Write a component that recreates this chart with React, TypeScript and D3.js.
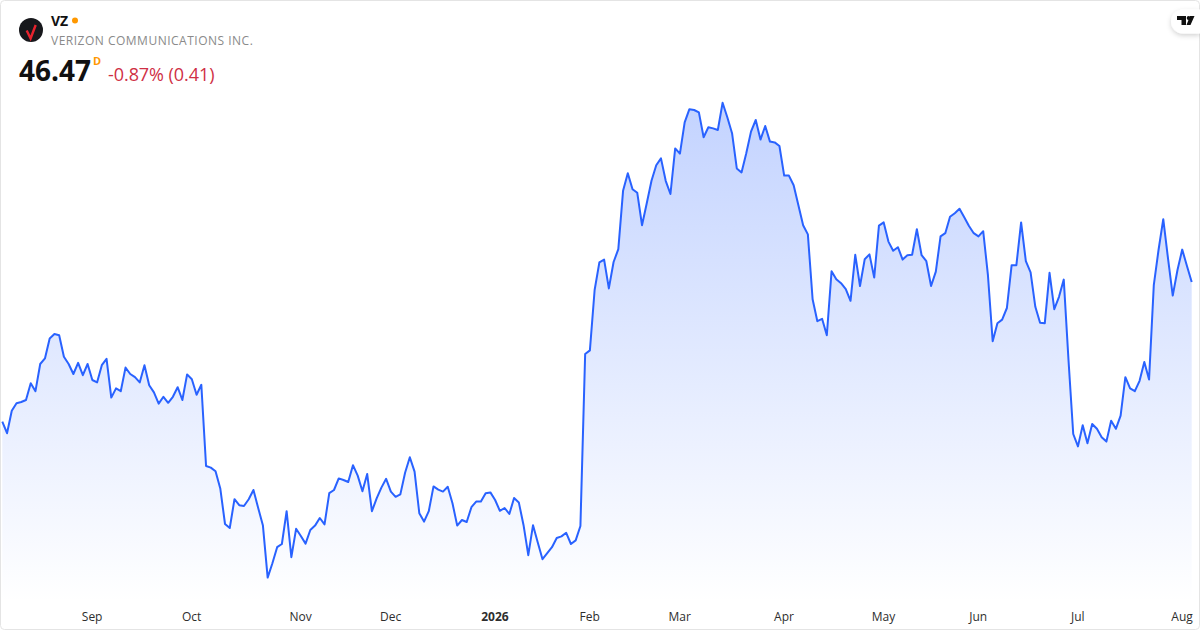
import React, { useEffect, useRef } from 'react';
import * as d3 from 'd3';

const WIDTH = 1200;
const HEIGHT = 630;
const PLOT_BOTTOM = 602;
const FONT = '"Open Sans", sans-serif';

const closes = [
  42.98, 42.69, 43.25, 43.44, 43.47, 43.52, 43.94, 43.74, 44.42, 44.56, 45.06, 45.17,
  45.14, 44.6, 44.42, 44.17, 44.45, 44.14, 44.42, 44.02, 43.96, 44.39, 44.55, 43.58,
  43.81, 43.74, 44.33, 44.17, 44.09, 43.96, 44.39, 43.89, 43.71, 43.43, 43.6, 43.45,
  43.6, 43.84, 43.52, 44.16, 44.04, 43.65, 43.9, 41.87, 41.83, 41.74, 41.31, 40.42,
  40.32, 41.04, 40.89, 40.87, 41.04, 41.27, 40.82, 40.38, 39.08, 39.44, 39.84, 39.92,
  40.74, 39.59, 40.3, 40.12, 39.93, 40.27, 40.38, 40.57, 40.41, 41.19, 41.27, 41.56,
  41.52, 41.47, 41.89, 41.63, 41.24, 41.67, 40.74, 41.06, 41.33, 41.55, 41.23, 41.1,
  41.16, 41.7, 42.09, 41.73, 40.69, 40.48, 40.74, 41.36, 41.28, 41.23, 41.35, 40.94,
  40.38, 40.52, 40.47, 40.84, 40.98, 40.98, 41.19, 41.21, 41.02, 40.75, 40.82, 40.67,
  41.07, 40.96, 40.39, 39.64, 40.39, 39.96, 39.54, 39.69, 39.84, 40.07, 40.11, 40.2,
  39.92, 40.01, 40.37, 44.67, 44.76, 46.27, 46.96, 47.03, 46.31, 46.97, 47.29, 48.75,
  49.19, 48.79, 48.7, 47.89, 48.44, 49.0, 49.39, 49.56, 49.0, 48.67, 49.81, 49.68,
  50.46, 50.79, 50.77, 50.71, 50.09, 50.34, 50.31, 50.27, 50.95, 50.59, 50.19, 49.31,
  49.21, 49.69, 50.23, 50.52, 50.03, 50.37, 49.98, 49.96, 49.87, 49.13, 49.13, 48.89,
  48.39, 47.89, 47.66, 46.04, 45.49, 45.55, 45.14, 46.74, 46.54, 46.44, 46.29, 46.0,
  47.15, 46.37, 47.04, 47.16, 46.58, 47.88, 47.96, 47.48, 47.25, 47.34, 47.03, 47.14,
  47.15, 47.79, 47.14, 46.99, 46.37, 46.73, 47.61, 47.69, 48.1, 48.19, 48.3, 48.09,
  47.87, 47.69, 47.61, 47.74, 46.64, 44.99, 45.44, 45.53, 45.82, 46.89, 46.89, 47.96,
  46.99, 46.71, 45.85, 45.45, 45.44, 46.7, 45.79, 46.1, 46.53, 44.52, 42.67, 42.36,
  42.89, 42.44, 42.92, 42.8, 42.59, 42.48, 43.0, 42.8, 43.13, 44.09, 43.81, 43.74,
  44.0, 44.47, 44.03, 46.39, 47.27, 48.04, 47.06, 46.13, 46.77, 47.28, 46.87, 46.47,
];

// index into closes of the first session of each labelled month
const tickIndexes = [19, 40, 63, 82, 104, 124, 143, 165, 186, 206, 227, 249];
const tickLabels = ['Sep', 'Oct', 'Nov', 'Dec', '2026', 'Feb', 'Mar', 'Apr', 'May', 'Jun', 'Jul', 'Aug'];

export default function App() {
  const svgRef = useRef<SVGSVGElement>(null);

  useEffect(() => {
    if (!svgRef.current) return;
    const svg = d3.select(svgRef.current);
    svg.select('.chart').remove();
    const g = svg.insert('g', '.header').attr('class', 'chart');

    const x = d3.scaleLinear().domain([0, closes.length - 1]).range([2.3, 1191.7]);
    const y = d3.scaleLinear().domain([53.52, 37.77]).range([0, HEIGHT]);

    const area = d3
      .area<number>()
      .x((_, i) => x(i))
      .y0(PLOT_BOTTOM)
      .y1((d) => y(d));
    g.append('path').attr('d', area(closes) ?? '').attr('fill', 'url(#areaFill)');

    const line = d3
      .line<number>()
      .x((_, i) => x(i))
      .y((d) => y(d));
    g.append('path')
      .attr('d', line(closes) ?? '')
      .attr('fill', 'none')
      .attr('stroke', '#2962ff')
      .attr('stroke-width', 2)
      .attr('stroke-linejoin', 'round');

    // Month labels, no axis line or tick marks
    const axis = d3
      .axisBottom(x)
      .tickValues(tickIndexes)
      .tickSize(0)
      .tickPadding(0)
      .tickFormat((_, i) => tickLabels[i]);
    const axisG = g.append('g').attr('transform', 'translate(-0.7, 612)').call(axis);
    axisG.select('.domain').remove();
    axisG
      .selectAll('text')
      .attr('font-family', FONT)
      .attr('font-size', 12)
      .attr('fill', '#2e2e2e')
      .attr('font-weight', (_, i) => (tickLabels[i] === '2026' ? 700 : 400));
  }, []);

  return (
    <svg
      ref={svgRef}
      width={WIDTH}
      height={HEIGHT}
      style={{ position: 'absolute', left: 0, top: 0, background: '#fff' }}
    >
      <defs>
        <linearGradient id="areaFill" gradientUnits="userSpaceOnUse" x1={0} x2={0} y1={103} y2={PLOT_BOTTOM}>
          <stop offset="0%" stopColor="#2962ff" stopOpacity={0.28} />
          <stop offset="100%" stopColor="#2962ff" stopOpacity={0} />
        </linearGradient>
        <filter id="badgeShadow" x="-50%" y="-50%" width="200%" height="200%">
          <feDropShadow dx={0} dy={2} stdDeviation={2.5} floodColor="#000" floodOpacity={0.18} />
        </filter>
      </defs>

      <g className="header">
        <circle cx={31} cy={30} r={12} fill="#17181c" />
        <path d="M26.7 30.5 L30.6 38.5 L35.7 25" fill="none" stroke="#e8232e" strokeWidth={2.4} />
        <text x={51} y={26} fontFamily={FONT} fontSize={14} fontWeight={700} fill="#111">VZ</text>
        <circle cx={75} cy={20.5} r={3} fill="#ff9800" />
        <text x={51} y={45} fontFamily={FONT} fontSize={12} letterSpacing={0.5} fill="#8a8a8a">
          VERIZON COMMUNICATIONS INC.
        </text>
        <text x={19} y={81} fontFamily={FONT} fontSize={28} fontWeight={700} fill="#111">46.47</text>
        <text x={93} y={65} fontFamily={FONT} fontSize={11} fontWeight={700} fill="#ff9800">D</text>
        <text x={108} y={81} fontFamily={FONT} fontSize={18} letterSpacing={-0.06} fill="#cf2f45">-0.87% (0.41)</text>
      </g>

      {/* frame and TradingView badge */}
      <rect x={0.5} y={0.5} width={WIDTH - 1} height={HEIGHT - 1} rx={4} fill="none" stroke="#e4e4e4" />
      <path
        d="M1200 9.5 H1183 A12 12 0 0 0 1183 33.5 H1200 Z"
        fill="#fff"
        filter="url(#badgeShadow)"
      />
      <path
        d="M1177 16 H1186 V25 H1181.5 V20 H1177 Z M1190 16 H1194.5 L1190.5 25 H1186.5 Z"
        fill="#111"
      />
      <circle cx={1188.6} cy={18} r={1.9} fill="#111" />
    </svg>
  );
}
